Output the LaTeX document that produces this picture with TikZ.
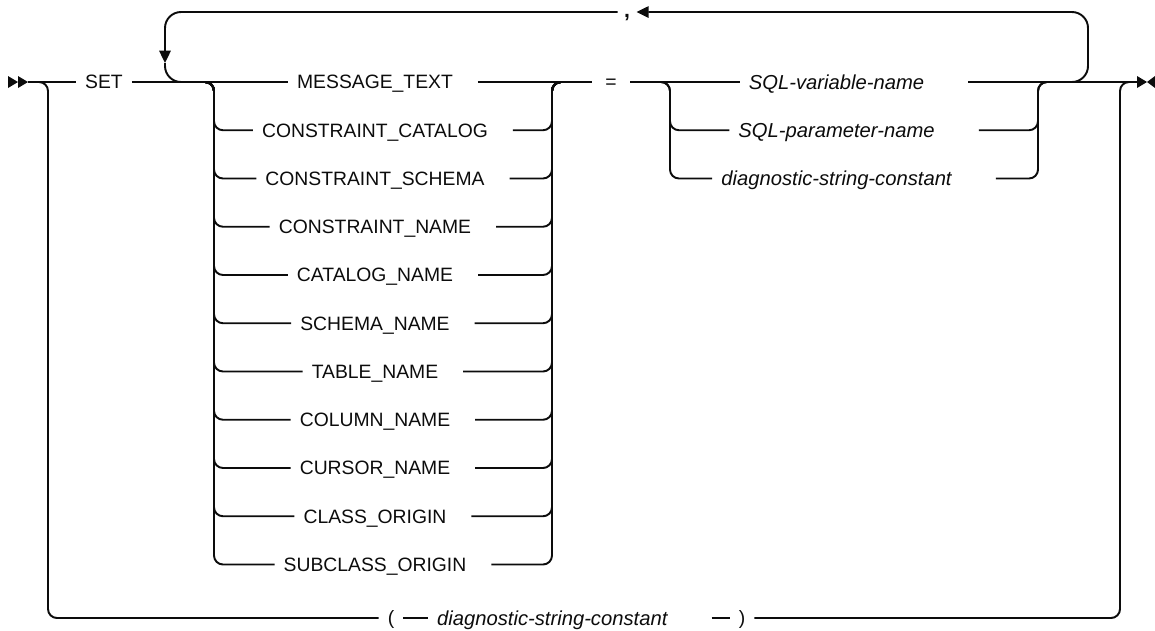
\documentclass[tikz,border=0pt]{standalone}
\usepackage{fontspec}
\setmainfont{Liberation Sans}
\usepackage{xcolor}
\usepackage{tikz}
\usetikzlibrary{arrows.meta}
\definecolor{railink}{RGB}{12,12,12}
\tikzset{
  rl/.style  ={draw=railink, line width=1.1pt, rounded corners=0.18cm},
  rlp/.style ={rl, rounded corners=0.32cm},
  kw/.style  ={font=\fontsize{11}{13}\selectfont, text=railink, inner xsep=5pt, inner ysep=0pt, text height=7.8pt, text depth=0pt},
  vr/.style  ={kw, font=\fontsize{11.5}{14}\selectfont\itshape, text height=8.2pt},
  pc/.style  ={kw, font=\fontsize{12}{14}\selectfont\bfseries, inner xsep=3.5pt, text height=1pt, text depth=1pt},
  bk/.style  ={-{Triangle[length=7pt,width=6.5pt]}},
}

\begin{document}
\begin{tikzpicture}[scale=1]
  \useasboundingbox (0,0) rectangle (23.1,-12.6);
  \fill[railink] (0.16,-1.52) -- (0.36,-1.64) -- (0.16,-1.76) -- cycle;
  \fill[railink] (0.36,-1.52) -- (0.56,-1.64) -- (0.36,-1.76) -- cycle;
  \fill[railink] (22.74,-1.52) -- (22.94,-1.64) -- (22.74,-1.76) -- cycle;
  \fill[railink] (23.10,-1.52) -- (22.94,-1.64) -- (23.10,-1.76) -- cycle;
  \coordinate (start) at (0.56,-1.64);
  \coordinate (stop) at (22.74,-1.64);
  \coordinate (byL) at (0.96,-1.64);
  \coordinate (byR) at (22.40,-1.64);
  \coordinate (lpL) at (3.30,-1.64);
  \coordinate (lpR) at (21.76,-1.64);
  \coordinate (aL) at (4.28,-1.64);
  \coordinate (aR) at (11.04,-1.64);
  \coordinate (bL) at (13.40,-1.64);
  \coordinate (bR) at (20.76,-1.64);

  \node[kw] (set) at (2.08,-1.64) {SET};
  \node[kw] (m0) at (7.50,-1.64) {MESSAGE\_TEXT};
  \node[kw] (m1) at (7.50,-2.605) {CONSTRAINT\_CATALOG};
  \node[kw] (m2) at (7.50,-3.57) {CONSTRAINT\_SCHEMA};
  \node[kw] (m3) at (7.50,-4.535) {CONSTRAINT\_NAME};
  \node[kw] (m4) at (7.50,-5.50) {CATALOG\_NAME};
  \node[kw] (m5) at (7.50,-6.465) {SCHEMA\_NAME};
  \node[kw] (m6) at (7.50,-7.43) {TABLE\_NAME};
  \node[kw] (m7) at (7.50,-8.395) {COLUMN\_NAME};
  \node[kw] (m8) at (7.50,-9.36) {CURSOR\_NAME};
  \node[kw] (m9) at (7.50,-10.325) {CLASS\_ORIGIN};
  \node[kw] (m10) at (7.50,-11.29) {SUBCLASS\_ORIGIN};
  \node[kw,inner xsep=7.5pt] (eq) at (12.22,-1.64) {=};
  \node[vr] (v0) at (16.73,-1.64) {SQL-variable-name};
  \node[vr] (v1) at (16.73,-2.605) {SQL-parameter-name};
  \node[vr] (v2) at (16.73,-3.57) {diagnostic-string-constant};
  \node[pc] (comma) at (12.54,-0.24) {\raisebox{-3pt}{,}};
  \node[kw] (lp) at (7.82,-12.36) {(};
  \node[vr,anchor=west] (dt) at (8.56,-12.36) {diagnostic-string-constant};
  \node[kw] (rp) at (14.84,-12.36) {)};

  \draw[rl] (start) -- (set.west);
  \draw[rl] (set.east) -- (m0.west);
  \draw[rl] ([xshift=9pt]m0.east) -- (eq.west);
  \draw[rl] (eq.east) -- (v0.west);
  \draw[rl] ([xshift=20pt]v0.east) -- (stop);

  \draw[rlp,bk] ([xshift=-12pt]lpR) -- (lpR) -- (lpR |- comma) -- (comma.east);
  \draw[rlp,bk] (comma.west) -- (lpL |- comma) -- ([yshift=0.38cm]lpL);
  \draw[rlp] ([yshift=0.38cm]lpL) -- (lpL) -- ([xshift=12pt]lpL);

  \draw[rl] ([xshift=-10pt]aL) -- (aL) |- (m1.west);
  \draw[rl] ([xshift=-10pt]aL) -- (aL) |- (m2.west);
  \draw[rl] ([xshift=-10pt]aL) -- (aL) |- (m3.west);
  \draw[rl] ([xshift=-10pt]aL) -- (aL) |- (m4.west);
  \draw[rl] ([xshift=-10pt]aL) -- (aL) |- (m5.west);
  \draw[rl] ([xshift=-10pt]aL) -- (aL) |- (m6.west);
  \draw[rl] ([xshift=-10pt]aL) -- (aL) |- (m7.west);
  \draw[rl] ([xshift=-10pt]aL) -- (aL) |- (m8.west);
  \draw[rl] ([xshift=-10pt]aL) -- (aL) |- (m9.west);
  \draw[rl] ([xshift=-10pt]aL) -- (aL) |- (m10.west);
  \draw[rl] ([xshift=9pt]m1.east) -| (aR) -- ([xshift=10pt]aR);
  \draw[rl] ([xshift=9pt]m2.east) -| (aR) -- ([xshift=10pt]aR);
  \draw[rl] ([xshift=9pt]m3.east) -| (aR) -- ([xshift=10pt]aR);
  \draw[rl] ([xshift=9pt]m4.east) -| (aR) -- ([xshift=10pt]aR);
  \draw[rl] ([xshift=9pt]m5.east) -| (aR) -- ([xshift=10pt]aR);
  \draw[rl] ([xshift=9pt]m6.east) -| (aR) -- ([xshift=10pt]aR);
  \draw[rl] ([xshift=9pt]m7.east) -| (aR) -- ([xshift=10pt]aR);
  \draw[rl] ([xshift=9pt]m8.east) -| (aR) -- ([xshift=10pt]aR);
  \draw[rl] ([xshift=9pt]m9.east) -| (aR) -- ([xshift=10pt]aR);
  \draw[rl] ([xshift=9pt]m10.east) -| (aR) -- ([xshift=10pt]aR);

  \draw[rl] ([xshift=-10pt]bL) -- (bL) |- (v1.west);
  \draw[rl] ([xshift=-10pt]bL) -- (bL) |- (v2.west);
  \draw[rl] ([xshift=20pt]v1.east) -| (bR) -- ([xshift=10pt]bR);
  \draw[rl] ([xshift=20pt]v2.east) -| (bR) -- ([xshift=10pt]bR);

  \draw[rl] (start) -- (byL) |- (lp.west);
  \draw[rl] (lp.east) -- (dt.west);
  \draw[rl] ([xshift=0.7cm]dt.east) -- (rp.west);
  \draw[rl] (rp.east) -| (byR) -- (stop);
\end{tikzpicture}
\end{document}
